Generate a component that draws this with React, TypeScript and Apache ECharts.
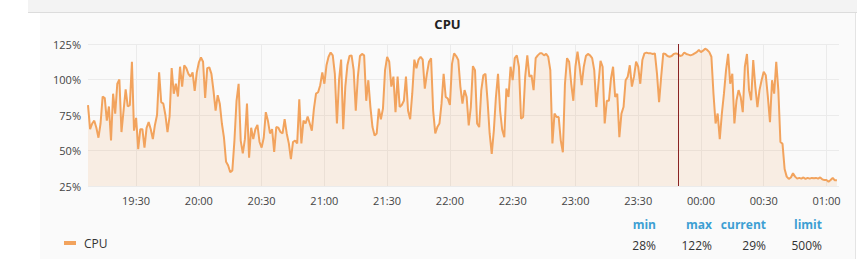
import React, { useEffect, useRef } from 'react';
import * as echarts from 'echarts';

const seriesName = 'CPU';
const titleText = 'CPU';
const startTime = new Date(2024, 0, 1, 19, 7).getTime();
const axisEndTime = new Date(2024, 0, 2, 1, 6).getTime();
const markerTime = new Date(2024, 0, 1, 23, 49).getTime();
const sampleStepMs = 60 * 1000;
const xTickLabels = ['19:30', '20:00', '20:30', '21:00', '21:30', '22:00', '22:30', '23:00', '23:30', '00:00', '00:30', '01:00'];
const yMin = 25;
const yMax = 125;
const yStep = 25;
const limitPercent = 500;
const statHeaders = ['min', 'max', 'current', 'limit'];

const cpuValues = [
  82, 65, 69, 71, 66, 59, 69, 88, 87, 71, 81, 57, 90, 76, 97, 100, 63, 78, 93, 81, 82, 112.5, 64, 73, 51, 65, 65, 52, 66, 70, 65, 58, 68, 75, 105, 84, 83, 75, 63, 74, 108, 90, 97, 88,
  109, 95, 110, 108, 104, 102, 105, 92, 105, 112, 115.5, 112.5, 87, 108, 108.5, 104, 92, 78, 89, 83, 69, 59, 42, 39.4, 34.7, 36, 57, 85, 97, 57, 48, 58, 83, 45, 66, 58, 65, 68, 56, 52, 59, 77, 71, 62,
  65, 49, 66.5, 66, 63, 62, 72, 62, 55, 44, 56, 57, 55, 86, 55, 71, 69, 74, 69, 64, 79.5, 90, 91, 96, 105, 97, 110, 116, 119, 117, 104, 69, 99.5, 114, 65, 95, 110, 116.5, 117, 106.6, 78, 102, 116.5, 118,
  117, 85, 99.5, 80.6, 66.5, 60.6, 62, 79.5, 72, 79.5, 106.6, 116, 112.5, 95, 102, 77, 102, 80.6, 82, 85, 102, 78, 72, 90, 114, 108, 114, 116, 114, 93.6, 104, 112.5, 115, 78, 62, 66.5, 69, 83, 104, 87.7, 86.6, 82, 111, 118.4, 116.5,
  113.7, 95, 83, 92.5, 87.7, 67.7, 80.6, 109.4, 106.6, 69, 66.5, 92.5, 103, 104, 85, 62, 47.6, 64, 87.7, 104, 78, 64.6, 59.4, 93.6, 87.7, 109, 99.5, 115, 117, 109, 72.4, 73.6, 102, 117, 102, 103, 92.5, 115, 117, 118.4, 118.4, 117, 118, 116,
  106.6, 55, 76, 73.6, 73.6, 57, 48.8, 97, 115, 112.5, 97, 85, 109, 119.6, 109, 96, 109, 116.5, 118, 117, 115, 106.6, 80.6, 97, 113.2, 109, 69, 85, 85, 100.7, 109, 87.7, 90, 59.4, 76, 80.6, 99.5, 102, 110, 95, 102, 112.5, 109, 97, 113.7,
  118.4, 118.9, 118.4, 118.4, 118, 118.4, 104, 84, 102, 118.4, 118, 116.5, 116, 116.5, 118, 118.4, 118, 116.5, 117, 119, 118, 117.5, 117, 117.5, 118.4, 119.3, 120.8, 119.3, 120.3, 121.7, 120.8, 119.3, 116, 90, 69, 76, 58, 76, 90, 106.6, 118, 97, 104, 69,
  85.4, 92.5, 87.7, 77, 109, 118, 92.5, 85.4, 113.7, 95, 80.6, 92.5, 99.5, 105.4, 103, 87.7, 70, 99.5, 90, 112.5, 92.5, 56, 54.7, 37, 31.6, 30, 31, 34, 31.6, 30.2, 30.7, 30.2, 31, 30, 30.7, 30.2, 30.7, 30.4, 30.7, 30.2, 31, 29.7, 29.2, 29.2, 28, 29.2, 30.7, 29, 29,
];

const FONT = '"Open Sans", "Noto Sans", sans-serif';
const LINE_COLOR = '#f2a35d';

function labelToTime(label: string): number {
  const [h, m] = label.split(':').map(Number);
  const day = h < 12 ? 2 : 1;
  return new Date(2024, 0, day, h, m).getTime();
}

function pad(n: number) {
  return n < 10 ? '0' + n : '' + n;
}

export default function App() {
  const ref = useRef<HTMLDivElement>(null);

  useEffect(() => {
    document.body.style.margin = '0';
    if (!ref.current) return;
    const chart = echarts.init(ref.current, undefined, { renderer: 'svg' });

    const points = cpuValues.map((v, i) => [startTime + i * sampleStepMs, v]);
    const tickTimes = xTickLabels.map(labelToTime);
    const minV = Math.min(...cpuValues);
    const maxV = Math.max(...cpuValues);
    const curV = cpuValues[cpuValues.length - 1];
    const statValues = [minV, maxV, curV, limitPercent].map((v) => `${Math.round(v)}%`);
    const colRight = [656, 712, 766, 822];

    const graphics: any[] = [
      {
        type: 'text',
        x: 447.5,
        y: 24,
        style: {
          text: titleText,
          textAlign: 'center',
          textVerticalAlign: 'middle',
          align: 'center',
          verticalAlign: 'middle',
          font: `bold 13px ${FONT}`,
          fill: '#222',
        },
      },
    ];
    statHeaders.forEach((h, i) => {
      graphics.push({
        type: 'text',
        x: colRight[i],
        y: 224,
        style: {
          text: h,
          textAlign: 'right',
          textVerticalAlign: 'middle',
          align: 'right',
          verticalAlign: 'middle',
          font: `bold 12px ${FONT}`,
          fill: '#3d9fd3',
        },
      });
      graphics.push({
        type: 'text',
        x: colRight[i],
        y: 245,
        style: {
          text: statValues[i],
          textAlign: 'right',
          textVerticalAlign: 'middle',
          align: 'right',
          verticalAlign: 'middle',
          font: `12px ${FONT}`,
          fill: '#333',
        },
      });
    });

    chart.setOption({
      animation: false,
      grid: { left: 88, right: 18, top: 44, bottom: 73, containLabel: false },
      legend: {
        data: [seriesName],
        left: 64,
        top: 237,
        padding: 0,
        icon: 'rect',
        itemWidth: 12,
        itemHeight: 4,
        textStyle: { fontSize: 12, color: '#333', fontFamily: FONT, padding: [0, 0, 0, 3] },
      },
      xAxis: {
        type: 'value',
        min: startTime,
        max: axisEndTime,
        axisLine: { show: false },
        axisTick: { show: false, customValues: tickTimes },
        axisLabel: {
          customValues: tickTimes,
          formatter: (v: number) => {
            const d = new Date(v);
            return `${pad(d.getHours())}:${pad(d.getMinutes())}`;
          },
          color: '#444',
          fontSize: 11,
          fontFamily: FONT,
          margin: 9,
        },
        splitLine: { show: true, lineStyle: { color: '#ebebeb', width: 1 } },
      },
      yAxis: {
        type: 'value',
        min: yMin,
        max: yMax,
        interval: yStep,
        axisLine: { show: false },
        axisTick: { show: false },
        axisLabel: { formatter: '{value}%', color: '#444', fontSize: 11, fontFamily: FONT, margin: 7 },
        splitLine: { show: true, lineStyle: { color: '#ebebeb', width: 1 } },
      },
      series: [
        {
          type: 'line',
          name: seriesName,
          data: points,
          symbol: 'none',
          showSymbol: false,
          lineStyle: { color: LINE_COLOR, width: 2 },
          itemStyle: { color: LINE_COLOR },
          areaStyle: { color: 'rgba(242,163,93,0.2)' },
          markLine: {
            symbol: 'none',
            silent: true,
            label: { show: false },
            lineStyle: { color: '#8a2323', width: 1, type: 'solid' },
            data: [{ xAxis: markerTime }],
          },
        },
      ],
      graphic: graphics,
    });

    return () => chart.dispose();
  }, []);

  return (
    <div style={{ position: 'absolute', left: 0, top: 0, width: 857, height: 259, background: '#fff', overflow: 'hidden' }}>
      <div style={{ position: 'absolute', left: 28, top: 0, width: 829, height: 12, background: '#f3f3f3', borderBottom: '1px solid #dcdcdc' }} />
      <div style={{ position: 'absolute', left: 40, top: 13, width: 815, height: 246, background: '#fafafa', borderRight: '1px solid #e4e4e4' }} />
      <div ref={ref} style={{ position: 'absolute', left: 0, top: 0, width: 857, height: 259 }} />
    </div>
  );
}
